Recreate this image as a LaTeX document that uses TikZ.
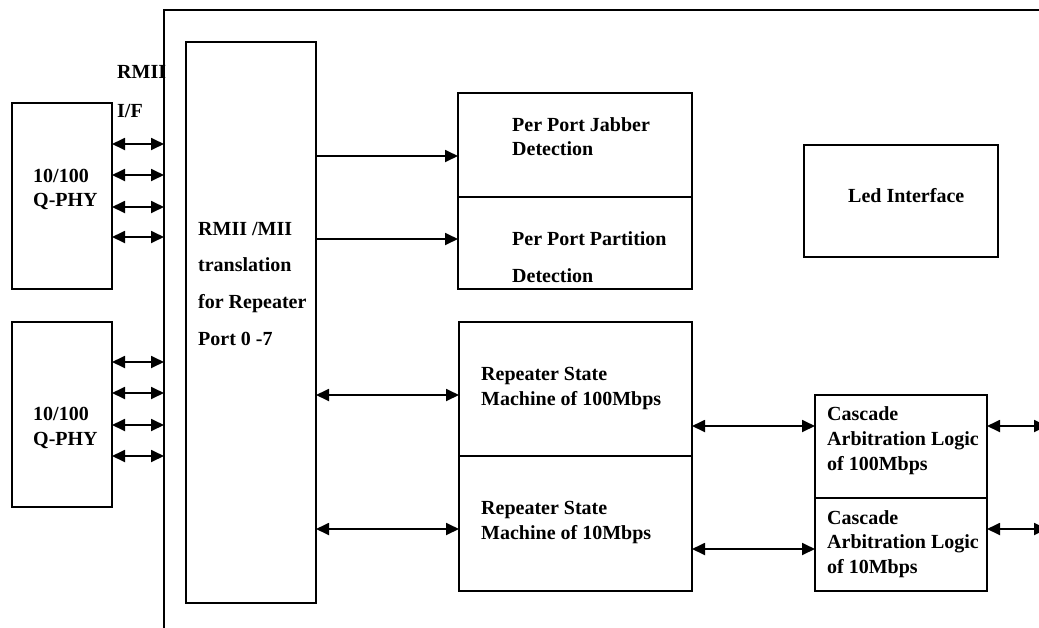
\documentclass[tikz,border=0pt]{standalone}
\usepackage{fontspec}
\setmainfont{Liberation Serif}
\usetikzlibrary{arrows.meta,positioning}
\tikzset{
  blk/.style={draw, rectangle, line width=1.8pt, inner sep=0pt, outer sep=0pt, anchor=north west},
  lbl/.style={anchor=base west, inner sep=0pt, align=left, font=\fontsize{20}{24}\selectfont\bfseries},
  link/.style={line width=1.8pt, -{Triangle[length=13pt,width=12pt]}},
  dlink/.style={line width=1.8pt, {Triangle[length=13pt,width=12pt]}-{Triangle[length=13pt,width=12pt]}},
}
\begin{document}
\begin{tikzpicture}[x=1pt, y=-1pt]
			\clip (0,0) rectangle (1039,627);
			% Define nodes
			\node[blk, minimum width=1000pt, minimum height=700pt] (chip) at (164,10) {};
			\node[blk, minimum width=100pt, minimum height=186pt] (phyA) at (12,103) {};
			\node[blk, minimum width=100pt, minimum height=185pt] (phyB) at (12,322) {};
			\node[blk, minimum width=130pt, minimum height=561pt] (rmii) at (186,42) {};
			\node[blk, minimum width=234pt, minimum height=104pt] (jab) at (458,93) {};
			\node[blk, minimum width=234pt, minimum height=92pt, below=0pt of jab] (part) {};
			\node[blk, minimum width=194pt, minimum height=112pt] (led) at (804,145) {};
			\node[blk, minimum width=233pt, minimum height=134pt] (rep100) at (459,322) {};
			\node[blk, minimum width=233pt, minimum height=135pt, below=0pt of rep100] (rep10) {};
			\node[blk, minimum width=172pt, minimum height=103pt] (cas100) at (815,395) {};
			\node[blk, minimum width=172pt, minimum height=93pt, below=0pt of cas100] (cas10) {};
			\coordinate (bus100) at (1047,426);
			\coordinate (bus10) at (1047,529);

			% Labels (placed at the baseline of their last line)
			\node[lbl] (rmiiIF) at (117,117) {RMII\\[15pt]I/F};
			\node[lbl] (phyAtxt) at (33,206) {10/100\\Q-PHY};
			\node[lbl] (phyBtxt) at (33,445) {10/100\\[1pt]Q-PHY};
			\node[lbl] (rmiiTxt) at (198,345) {RMII /MII\\[12pt]translation\\[13pt]for Repeater\\[13pt]Port 0 -7};
			\node[lbl] (jabTxt) at (512,155) {Per Port Jabber\\Detection};
			\node[lbl] (partTxt) at (512,282) {Per Port Partition\\[13pt]Detection};
			\node[lbl] (ledTxt) at (848,202) {Led Interface};
			\node[lbl] (rep100Txt) at (481,405) {Repeater State\\[1pt]Machine of 100Mbps};
			\node[lbl] (rep10Txt) at (481,539) {Repeater State\\[1pt]Machine of 10Mbps};
			\node[lbl] (cas100Txt) at (827,470) {Cascade\\[1pt]Arbitration Logic\\[1pt]of 100Mbps};
			\node[lbl] (cas10Txt) at (827,573) {Cascade\\Arbitration Logic\\[1pt]of 10Mbps};

			% Connect the nodes
			\foreach \y in {144,175,207,237}
				\draw[dlink] (phyA.east |- 0,\y) -- (chip.west |- 0,\y);
			\foreach \y in {362,393,425,456}
				\draw[dlink] (phyB.east |- 0,\y) -- (chip.west |- 0,\y);
			\draw[link] (rmii.east |- 0,156) -- (jab.west |- 0,156);
			\draw[link] (rmii.east |- 0,239) -- (part.west |- 0,239);
			\draw[dlink] (rmii.east |- 0,395) -- (rep100.west |- 0,395);
			\draw[dlink] (rmii.east |- 0,529) -- (rep10.west |- 0,529);
			\draw[dlink] (rep100.east |- 0,426) -- (cas100.west |- 0,426);
			\draw[dlink] (rep10.east |- 0,549) -- (cas10.west |- 0,549);
			\draw[dlink] (cas100.east |- bus100) -- (bus100);
			\draw[dlink] (cas10.east |- bus10) -- (bus10);
		\end{tikzpicture}
\end{document}
